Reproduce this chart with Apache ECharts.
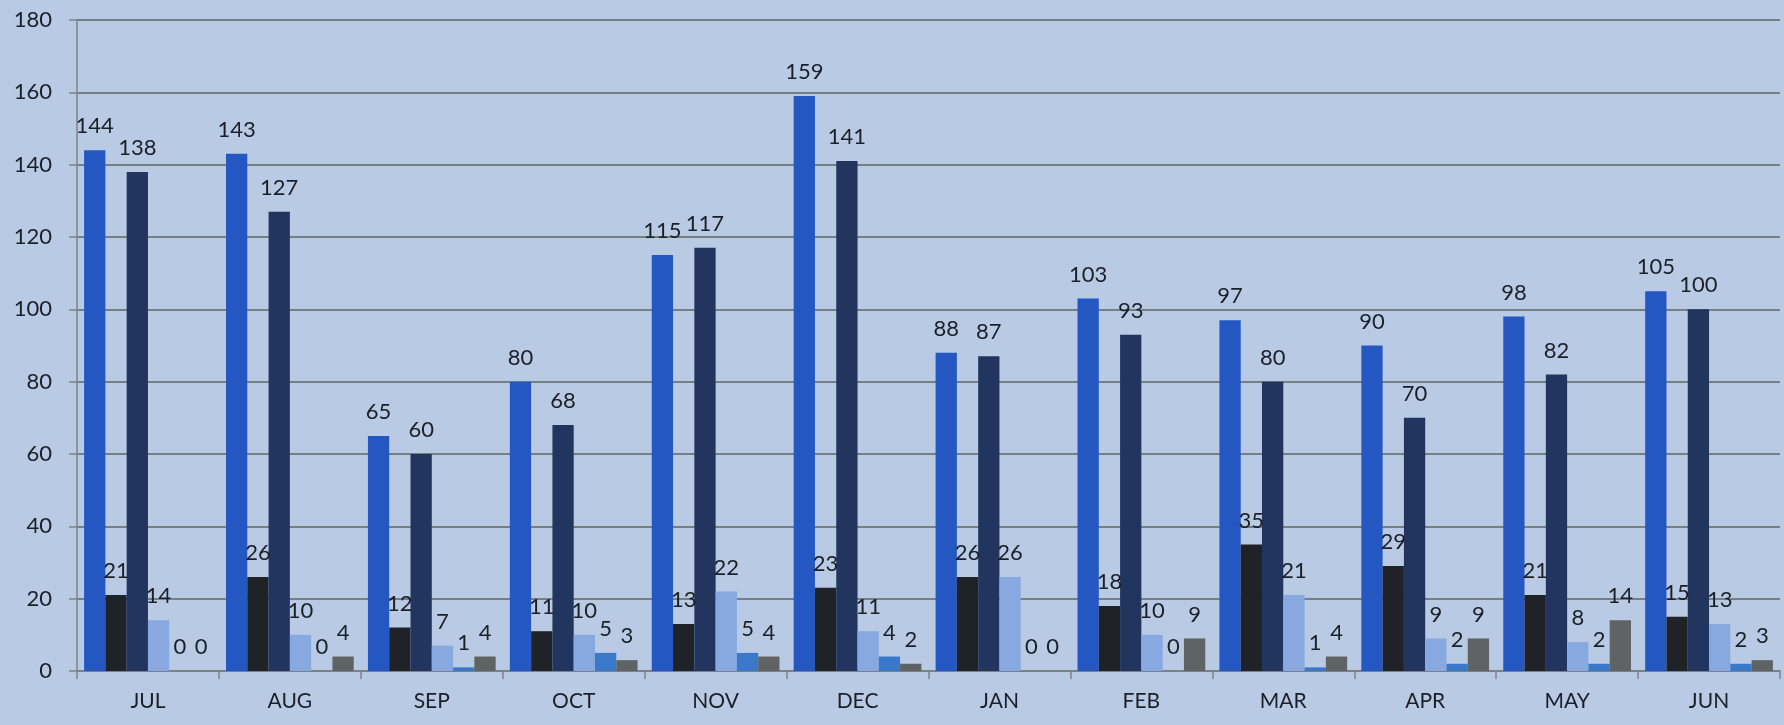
<!DOCTYPE html>
<html>
<head>
<meta charset="utf-8">
<script src="https://cdn.jsdelivr.net/npm/echarts@6/dist/echarts.min.js"></script>
<style>
  html, body { margin: 0; padding: 0; background: #B9CAE5; }
  #chart { width: 1784px; height: 725px; }
</style>
</head>
<body>
<div id="chart"></div>
<script>
const months = ['JUL','AUG','SEP','OCT','NOV','DEC','JAN','FEB','MAR','APR','MAY','JUN'];
const seriesA = [144, 143, 65, 80, 115, 159, 88, 103, 97, 90, 98, 105];
const seriesB = [21, 26, 12, 11, 13, 23, 26, 18, 35, 29, 21, 15];
const seriesC = [138, 127, 60, 68, 117, 141, 87, 93, 80, 70, 82, 100];
const seriesD = [14, 10, 7, 10, 22, 11, 26, 10, 21, 9, 8, 13];
const seriesE = [0, 0, 1, 5, 5, 4, 0, 0, 1, 2, 2, 2];
const seriesF = [0, 4, 4, 3, 4, 2, 0, 9, 4, 9, 14, 3];
const yTicks = [0, 20, 40, 60, 80, 100, 120, 140, 160, 180];

const colors = ['#2557C2', '#1F2328', '#22355F', '#88A9E0', '#3A78CA', '#5F6363'];
const data = [seriesA, seriesB, seriesC, seriesD, seriesE, seriesF];
const names = ['Series 1','Series 2','Series 3','Series 4','Series 5','Series 6'];
const FONT = 'Lato';

const chart = echarts.init(document.getElementById('chart'), null, { renderer: 'canvas' });
chart.setOption({
  backgroundColor: '#B9CAE5',
  animation: false,
  grid: { left: 77, right: 4, top: 20, bottom: 54, containLabel: false },
  xAxis: {
    type: 'category',
    data: months,
    axisLine: { show: true, lineStyle: { color: '#7C8288', width: 1.5 } },
    axisTick: { show: true, length: 8, lineStyle: { color: '#7C8288', width: 1.5 } },
    axisLabel: { color: '#1B1F27', fontSize: 21, fontFamily: FONT, margin: 20 }
  },
  yAxis: {
    type: 'value',
    min: yTicks[0],
    max: yTicks[yTicks.length - 1],
    interval: 20,
    axisLine: { show: true, lineStyle: { color: '#7C8288', width: 1.5 } },
    axisTick: { show: true, length: 8, lineStyle: { color: '#7C8288', width: 1.5 } },
    axisLabel: { color: '#1B1F27', fontSize: 22, fontFamily: FONT, margin: 25 },
    splitLine: { show: true, lineStyle: { color: '#5F6762', width: 1.5 } }
  },
  series: data.map((d, i) => ({
    name: names[i],
    type: 'bar',
    data: d,
    barGap: '0%',
    barCategoryGap: '10%',
    itemStyle: { color: colors[i] },
    label: {
      show: true,
      position: 'top',
      distance: 13,
      color: '#1B1F27',
      fontSize: 22,
      fontFamily: FONT
    }
  }))
});
</script>
</body>
</html>
